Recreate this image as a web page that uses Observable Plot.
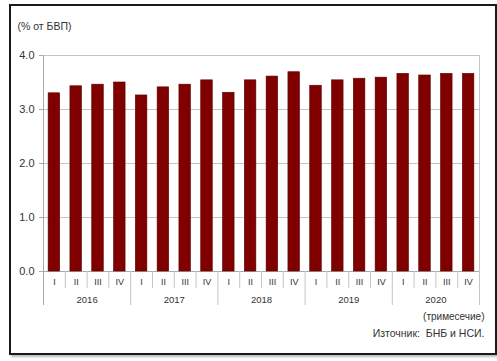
<!DOCTYPE html>
<html>
<head>
<meta charset="utf-8">
<script src="https://cdn.jsdelivr.net/npm/d3@7"></script>
<script src="https://cdn.jsdelivr.net/npm/@observablehq/plot@0.6"></script>
<style>
  html, body { margin: 0; padding: 0; background: #fff; }
  #wrap { position: relative; width: 497px; height: 361px; overflow: hidden; }
  #border { position: absolute; left: 9px; top: 4px; width: 484px; height: 347px;
            border: 2px solid #1a1a1a; box-shadow: 2px 2px 2px #bbb; pointer-events: none; }
  #chart { position: absolute; left: 0; top: 0; }
  #chart svg text { white-space: pre; }
</style>
</head>
<body>
<div id="wrap"><div id="chart"></div><div id="border"></div></div>
<script>
const years = ["2016", "2017", "2018", "2019", "2020"];
const quarters = ["I", "II", "III", "IV"];
const values = [
  3.30, 3.43, 3.46, 3.50,
  3.26, 3.41, 3.46, 3.54,
  3.31, 3.54, 3.61, 3.69,
  3.44, 3.54, 3.57, 3.59,
  3.66, 3.63, 3.66, 3.66
];
const yTicks = [0, 1, 2, 3, 4];
const title = "(% от БВП)";
const unitNote = "(тримесечие)";
const source = "Източник:  БНБ и НСИ.";

const data = years.flatMap((y, i) => quarters.map((q, j) => ({
  key: y + "-" + q, year: y, q, value: values[i * 4 + j], first: j === 0
})));
const keys = data.map(d => d.key);

const W = 497, H = 361;
const mL = 43, mR = 18, mT = 55, mB = 90;
const step = (W - mL - mR) / keys.length;
const half = step / 2;
const grid = "#c4c4c4";
const textColor = "#333";

const lastKey = keys[keys.length - 1];
const firstKey = keys[0];

const chart = Plot.plot({
  width: W, height: H,
  marginLeft: mL, marginRight: mR, marginTop: mT, marginBottom: mB,
  style: { fontFamily: "'Liberation Sans', Arial, sans-serif", fontSize: "10px", color: textColor, background: "transparent" },
  x: { type: "band", domain: keys, paddingInner: 0.47, paddingOuter: 0.235, round: false, axis: null },
  y: { domain: [0, 4], axis: null },
  marks: [
    Plot.gridY(yTicks.filter(t => t > 0), { stroke: grid, strokeOpacity: 1 }),
    Plot.ruleY([0], { stroke: "#aaa" }),
    Plot.barY(data, { x: "key", y: "value", fill: "#800000", stroke: "#5a0000", strokeWidth: 0.6 }),
    Plot.ruleX([firstKey], { dx: -half, y1: 4, y2: -0.63, stroke: "#aaa" }),
    Plot.ruleX([lastKey], { dx: half, y1: 4, y2: -0.63, stroke: grid }),
    Plot.ruleX(data.filter(d => !d.first), { x: "key", dx: -half, y1: 0, y2: -0.31, stroke: grid }),
    Plot.ruleX(data.filter(d => d.first && d.key !== firstKey), { x: "key", dx: -half, y1: 0, y2: -0.63, stroke: grid }),
    Plot.axisY(yTicks, { label: null, tickFormat: d => d.toFixed(1), tickSize: 4, tickPadding: 5, fontSize: 11, stroke: "#aaa", fill: textColor }),
    Plot.text(data, { x: "key", y: 0, text: "q", dy: 11, fontSize: 9, fill: textColor }),
    Plot.text(data.filter(d => d.q === "II"), { x: "key", y: 0, text: "year", dx: half, dy: 28, fontSize: 9.5, fill: textColor }),
    Plot.text([title], { frameAnchor: "top-left", dx: -26, dy: -33, text: d => d, textAnchor: "start", fontSize: 10.5, fill: textColor }),
    Plot.text([unitNote], { frameAnchor: "bottom-right", dx: 5, dy: 48, text: d => d, textAnchor: "end", fontSize: 10, fill: textColor }),
    Plot.text([source], { frameAnchor: "bottom-right", dx: 5, dy: 65, text: d => d, textAnchor: "end", fontSize: 10.5, fill: textColor })
  ]
});
document.getElementById("chart").appendChild(chart);
</script>
</body>
</html>
